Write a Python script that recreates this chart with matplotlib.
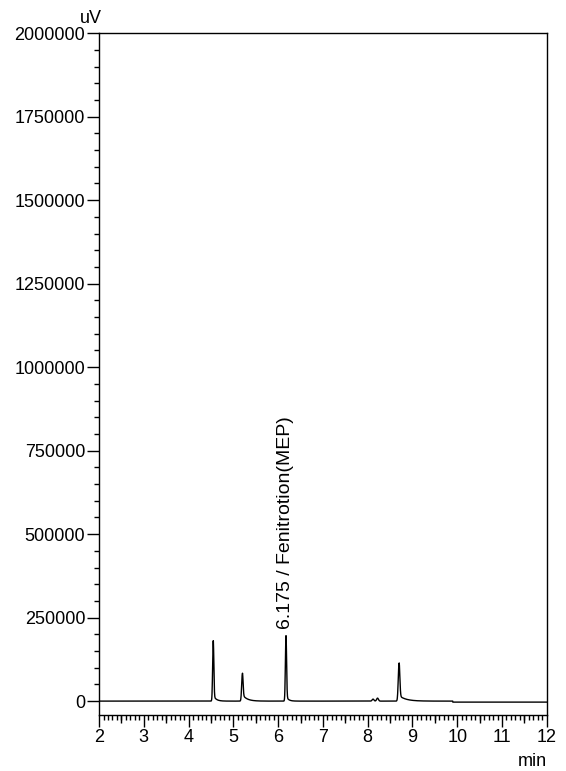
import numpy as np
import matplotlib.pyplot as plt
from matplotlib.ticker import MultipleLocator, NullFormatter

# peaks (min, uV)
peak_rt = [4.55, 5.20, 6.175, 8.12, 8.22, 8.70]
peak_height = [180000, 80000, 195000, 6000, 9000, 112000]
peak_sigma = [0.013, 0.015, 0.013, 0.02, 0.02, 0.017]
peak_tail = [0.10, 0.25, 0.08, 0.0, 0.0, 0.15]   # tail height as fraction of peak
peak_tau = [0.06, 0.10, 0.05, 0.05, 0.05, 0.15]

label_rt = 6.175
label_text = '6.175 / Fenitrotion(MEP)'

t = np.linspace(2, 12, 4000)
y = np.zeros_like(t)
y[t > 9.9] = -3000
for c, h, s, f, tau in zip(peak_rt, peak_height, peak_sigma, peak_tail, peak_tau):
    y += h * np.exp(-0.5 * ((t - c) / s) ** 2)
    d = np.clip(t - c, 0, None)
    y += np.where(t > c, f * h * np.exp(-d / tau) * (1 - np.exp(-d / 0.01)), 0)

plt.rcParams['font.family'] = ['Liberation Sans', 'DejaVu Sans']
fig = plt.figure(figsize=(5.66, 7.71), dpi=100)
ax = fig.add_axes([0.175, 0.0726, 0.791, 0.8844])
ax.plot(t, y, color='black', lw=1.0)
ax.set_xlim(2, 12)
ax.set_ylim(-41667, 2000000)

ax.xaxis.set_major_locator(MultipleLocator(1))
ax.xaxis.set_minor_locator(MultipleLocator(0.1))
ax.yaxis.set_major_locator(MultipleLocator(250000))
ax.yaxis.set_minor_locator(MultipleLocator(50000))
ax.tick_params(which='major', length=8.5, width=1, labelsize=13, direction='out', pad=1.5)
ax.tick_params(which='minor', length=3.6, width=1, direction='out')
ax.set_yticks(np.arange(0, 2000001, 250000))
ax.set_yticklabels([str(v) for v in range(0, 2000001, 250000)])
for s in ax.spines.values():
    s.set_linewidth(1.0)

# half-minute ticks, a bit longer than the minor ones
sec = ax.secondary_xaxis('bottom')
sec.set_xticks(np.arange(2.5, 12, 1))
sec.xaxis.set_major_formatter(NullFormatter())
sec.tick_params(length=5.5, width=1, direction='out')
sec.spines['bottom'].set_visible(False)

i = np.argmin(np.abs(t - label_rt))
ax.annotate(label_text, xy=(label_rt, y[i]), xytext=(0, 5), textcoords='offset points',
            rotation=90, ha='center', va='bottom', fontsize=14)

fig.text(0.142, 0.965, 'uV', fontsize=13, ha='left', va='bottom')
fig.text(0.966, 0.001, 'min', fontsize=13, ha='right', va='bottom')

fig.savefig('out.png', dpi=100)
